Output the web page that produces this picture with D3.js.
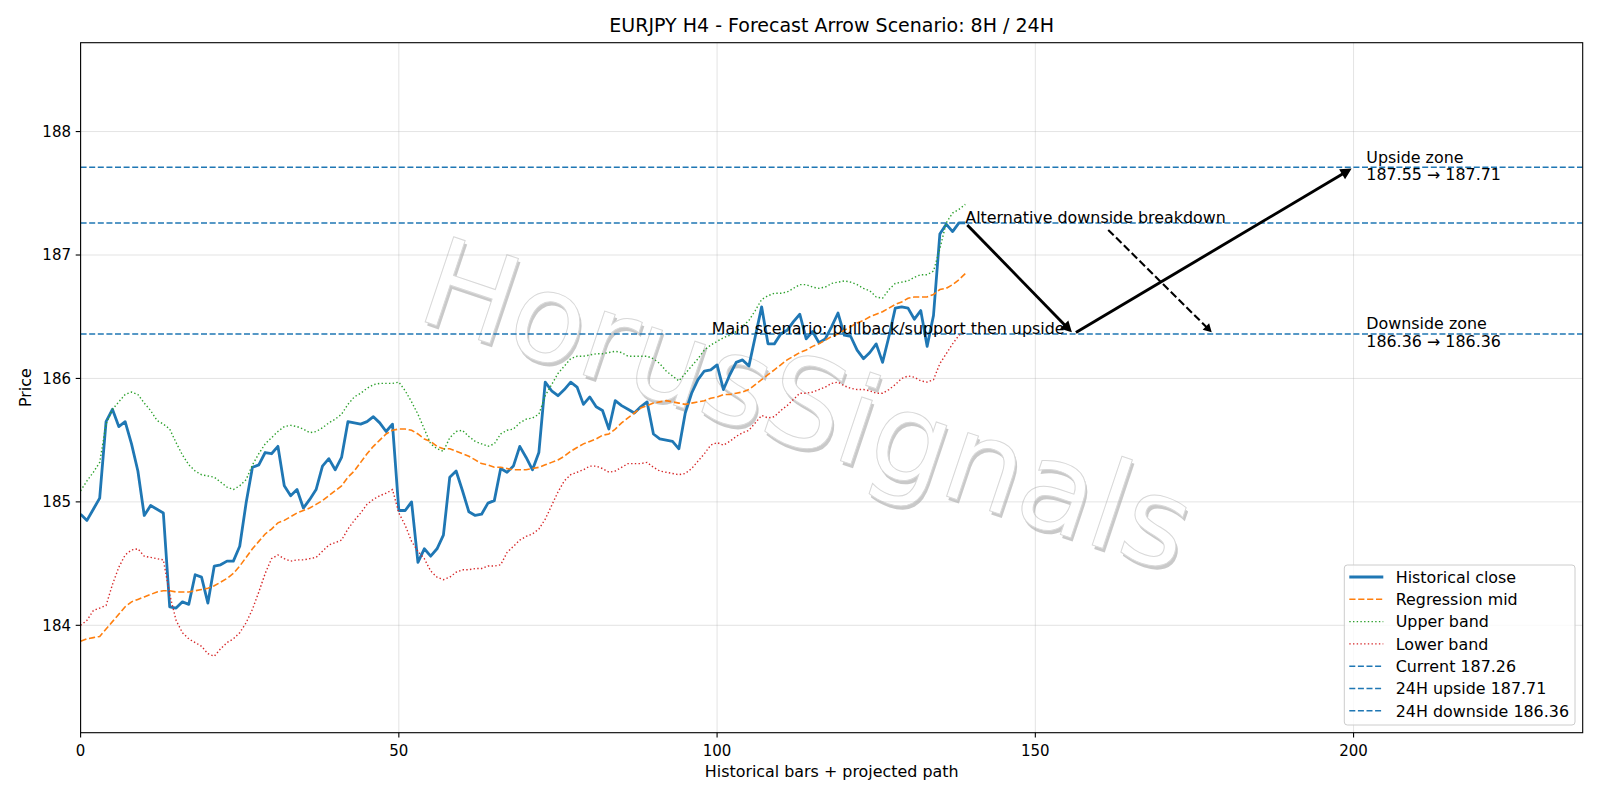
<!DOCTYPE html>
<html><head><meta charset="utf-8">
<script src="https://cdn.jsdelivr.net/npm/d3@7"></script>
<style>body{margin:0;background:#fff} text{font-family:"DejaVu Sans",sans-serif}</style>
</head><body><svg id="c" width="1600" height="800"></svg>
<script>
const closeSeries=[184.90,184.85,184.94,185.03,185.65,185.75,185.61,185.65,185.47,185.25,184.89,184.97,184.94,184.91,184.15,184.14,184.19,184.17,184.41,184.39,184.18,184.48,184.49,184.52,184.52,184.64,184.99,185.28,185.30,185.40,185.39,185.45,185.13,185.05,185.10,184.95,185.02,185.10,185.29,185.35,185.26,185.36,185.65,185.64,185.63,185.65,185.69,185.64,185.57,185.63,184.93,184.93,185.00,184.51,184.62,184.56,184.62,184.73,185.20,185.25,185.09,184.92,184.89,184.90,184.99,185.01,185.27,185.24,185.29,185.45,185.36,185.26,185.40,185.97,185.90,185.86,185.91,185.97,185.93,185.79,185.85,185.77,185.74,185.59,185.82,185.78,185.75,185.72,185.77,185.81,185.55,185.51,185.50,185.49,185.43,185.72,185.88,185.99,186.06,186.07,186.11,185.91,186.03,186.13,186.15,186.10,186.34,186.58,186.28,186.28,186.36,186.39,186.46,186.52,186.32,186.38,186.29,186.32,186.42,186.53,186.35,186.34,186.23,186.16,186.21,186.28,186.13,186.34,186.57,186.58,186.57,186.48,186.55,186.26,186.51,187.17,187.25,187.19,187.26,187.26];
const midSeries=[183.87,183.89,183.90,183.91,183.97,184.03,184.09,184.15,184.19,184.21,184.23,184.25,184.27,184.28,184.28,184.27,184.27,184.27,184.28,184.29,184.30,184.32,184.35,184.38,184.42,184.48,184.55,184.62,184.68,184.74,184.78,184.83,184.85,184.88,184.91,184.93,184.95,184.98,185.01,185.05,185.09,185.13,185.20,185.25,185.32,185.39,185.45,185.50,185.55,185.58,185.59,185.59,185.58,185.55,185.51,185.49,185.45,185.43,185.43,185.41,185.39,185.37,185.34,185.31,185.30,185.28,185.28,185.27,185.26,185.26,185.26,185.27,185.28,185.30,185.32,185.34,185.37,185.41,185.44,185.47,185.49,185.51,185.54,185.55,185.59,185.64,185.68,185.72,185.76,185.78,185.80,185.81,185.82,185.81,185.80,185.79,185.80,185.81,185.82,185.84,185.85,185.87,185.87,185.88,185.89,185.91,185.95,185.99,186.03,186.07,186.11,186.15,186.18,186.21,186.23,186.26,186.28,186.31,186.34,186.36,186.39,186.42,186.45,186.47,186.50,186.52,186.54,186.57,186.60,186.62,186.65,186.66,186.66,186.66,186.68,186.72,186.73,186.76,186.80,186.85];
const upperSeries=[185.09,185.17,185.24,185.32,185.63,185.75,185.81,185.87,185.89,185.87,185.80,185.74,185.66,185.63,185.59,185.48,185.38,185.30,185.25,185.22,185.21,185.20,185.16,185.12,185.10,185.13,185.18,185.30,185.39,185.47,185.52,185.57,185.61,185.62,185.61,185.59,185.56,185.57,185.60,185.64,185.67,185.71,185.79,185.85,185.88,185.92,185.95,185.96,185.96,185.96,185.97,185.90,185.81,185.71,185.59,185.47,185.43,185.41,185.52,185.57,185.58,185.53,185.49,185.47,185.45,185.47,185.55,185.58,185.59,185.64,185.67,185.68,185.71,185.86,185.95,186.04,186.10,186.16,186.18,186.18,186.19,186.20,186.20,186.21,186.22,186.21,186.18,186.18,186.18,186.18,186.16,186.12,186.06,186.02,185.98,186.04,186.10,186.16,186.23,186.27,186.30,186.33,186.35,186.38,186.42,186.47,186.55,186.64,186.67,186.69,186.69,186.70,186.73,186.76,186.76,186.74,186.73,186.74,186.77,186.78,186.79,186.78,186.76,186.73,186.71,186.66,186.65,186.72,186.77,186.78,186.79,186.82,186.84,186.84,186.87,187.05,187.26,187.34,187.37,187.41];
const lowerSeries=[184.00,184.04,184.12,184.14,184.16,184.33,184.47,184.57,184.61,184.62,184.56,184.55,184.54,184.53,184.25,184.04,183.94,183.89,183.86,183.83,183.77,183.75,183.81,183.86,183.89,183.94,184.02,184.13,184.27,184.42,184.54,184.57,184.54,184.52,184.53,184.53,184.54,184.55,184.60,184.65,184.67,184.69,184.78,184.85,184.91,184.98,185.02,185.05,185.07,185.10,184.91,184.81,184.68,184.60,184.54,184.44,184.39,184.37,184.39,184.43,184.45,184.45,184.46,184.46,184.48,184.48,184.49,184.59,184.64,184.69,184.72,184.74,184.78,184.86,184.97,185.08,185.17,185.22,185.24,185.26,185.29,185.29,185.27,185.24,185.25,185.28,185.31,185.31,185.31,185.32,185.28,185.25,185.24,185.23,185.22,185.23,185.27,185.33,185.39,185.46,185.48,185.46,185.49,185.53,185.56,185.58,185.64,185.70,185.68,185.69,185.74,185.78,185.83,185.88,185.88,185.89,185.91,185.93,185.96,185.97,185.94,185.92,185.91,185.91,185.90,185.88,185.88,185.91,185.95,186.00,186.02,186.01,185.98,185.97,185.99,186.12,186.20,186.28,186.35,186.38];
const xTicks=[0,50,100,150,200];
const yTicks=[184,185,186,187,188];
const levelLabels=["Current 187.26","24H upside 187.71","24H downside 186.36"];
const levelValues=[187.26,187.71,186.36];
const scenarioX=[139,156,200];
const scenarioY=[187.26,186.36,187.71];
const altTarget=[178,186.36];
const zoneLabels=[["Upside zone","187.55 \u2192 187.71"],["Downside zone","186.36 \u2192 186.36"]];
const zoneValues=[187.71,186.36];
const titleText="EURJPY H4 - Forecast Arrow Scenario: 8H / 24H";

const m={l:80.6,t:42.7,r:1582.7,b:732.7};
const svg=d3.select("#c");
const x=d3.scaleLinear().domain([0,236]).range([m.l,m.r]);
const y=d3.scaleLinear().domain([183.13,188.72]).range([m.b,m.t]);
const FS=15.9, TFS=15;
const C0="#1f77b4";

// watermark
const wm=svg.append("g").attr("transform",`translate(${m.l+0.484*(m.r-m.l)},${m.t+0.525*(m.b-m.t)}) rotate(18.5)`);
wm.append("text").attr("x",3).attr("y",3).attr("text-anchor","middle").attr("dominant-baseline","central")
  .attr("font-size",123).attr("fill","#b8b8b8").attr("opacity",0.75).text("HorusSignals");
wm.append("text").attr("text-anchor","middle").attr("dominant-baseline","central")
  .attr("font-size",123).attr("fill","#ffffff").attr("stroke","#d8d8d8").attr("stroke-width",1).text("HorusSignals");

// grid
const grid=svg.append("g").attr("stroke","#b0b0b0").attr("stroke-opacity",0.35).attr("stroke-width",1);
xTicks.forEach(v=>grid.append("line").attr("x1",x(v)).attr("x2",x(v)).attr("y1",m.t).attr("y2",m.b));
yTicks.forEach(v=>grid.append("line").attr("y1",y(v)).attr("y2",y(v)).attr("x1",m.l).attr("x2",m.r));

svg.append("clipPath").attr("id","pc").append("rect").attr("x",m.l).attr("y",m.t).attr("width",m.r-m.l).attr("height",m.b-m.t);
const plot=svg.append("g").attr("clip-path","url(#pc)");
const line=d3.line().x((d,i)=>x(i)).y(d=>y(d));

levelValues.forEach(v=>plot.append("line").attr("x1",m.l).attr("x2",m.r).attr("y1",y(v)).attr("y2",y(v))
  .attr("stroke",C0).attr("stroke-width",1.5).attr("stroke-dasharray","6,2.6"));

plot.append("path").datum(closeSeries).attr("d",line).attr("fill","none").attr("stroke",C0).attr("stroke-width",2.8).attr("stroke-linejoin","round");
plot.append("path").datum(midSeries).attr("d",line).attr("fill","none").attr("stroke","#ff7f0e").attr("stroke-width",1.6).attr("stroke-dasharray","6.2,2.7");
plot.append("path").datum(upperSeries).attr("d",line).attr("fill","none").attr("stroke","#2ca02c").attr("stroke-width",1.4).attr("stroke-dasharray","1.4,2.3");
plot.append("path").datum(lowerSeries).attr("d",line).attr("fill","none").attr("stroke","#d62728").attr("stroke-width",1.4).attr("stroke-dasharray","1.4,2.3");

function arrow(p0,p1,opts){
  const sh=2.8;
  const dx=p1[0]-p0[0],dy=p1[1]-p0[1],L=Math.hypot(dx,dy),ux=dx/L,uy=dy/L;
  const s=[p0[0]+ux*sh,p0[1]+uy*sh], tip=[p1[0]-ux*sh,p1[1]-uy*sh];
  const hl=opts.hl, hw=opts.hw, lw=opts.lw;
  const base=[tip[0]-ux*(hl+lw*0.9),tip[1]-uy*(hl+lw*0.9)];
  const t2=[tip[0]-ux*lw*0.9,tip[1]-uy*lw*0.9];
  const g=svg.append("g");
  g.append("line").attr("x1",s[0]).attr("y1",s[1]).attr("x2",base[0]).attr("y2",base[1])
    .attr("stroke","#000").attr("stroke-width",lw).attr("stroke-dasharray",opts.dash||null);
  const px=-uy,py=ux;
  g.append("path").attr("d",`M${t2[0]},${t2[1]}L${base[0]+px*hw},${base[1]+py*hw}L${base[0]-px*hw},${base[1]-py*hw}Z`)
    .attr("fill","#000").attr("stroke","#000").attr("stroke-width",lw).attr("stroke-linejoin","miter");
}
for(let i=0;i<scenarioX.length-1;i++){
  arrow([x(scenarioX[i]),y(scenarioY[i])],[x(scenarioX[i+1]),y(scenarioY[i+1])],{hl:6.5,hw:3.4,lw:2.9});
}

const altText=svg.append("text").attr("x",x(scenarioX[0])).attr("y",y(scenarioY[0])).attr("font-size",FS).attr("fill","#000").text("Alternative downside breakdown");
const bb=altText.node().getBBox();
{
  const cx=bb.x+bb.width/2, cy=bb.y+bb.height/2, pad=1;
  const tx=x(altTarget[0]), ty=y(altTarget[1]);
  const dx=tx-cx, dy=ty-cy;
  const tY=(bb.y+bb.height+pad-cy)/dy, tX=(bb.x+bb.width+pad-cx)/dx;
  const t=Math.min(tY,tX);
  arrow([cx+dx*t,cy+dy*t],[tx,ty],{hl:5,hw:2.8,lw:2.1,dash:"7.7,3.3"});
}
svg.append("text").attr("x",x(154.6)).attr("y",y(levelValues[2])).attr("text-anchor","end").attr("font-size",FS).attr("fill","#000").text("Main scenario: pullback/support then upside");

zoneLabels.forEach((lines,k)=>{
  const t=svg.append("text").attr("x",x(202)).attr("y",y(zoneValues[k])).attr("font-size",FS).attr("fill","#000");
  t.append("tspan").attr("x",x(202)).attr("dy",-4.6).text(lines[0]);
  t.append("tspan").attr("x",x(202)).attr("dy",17.6).text(lines[1]);
});

svg.append("rect").attr("x",m.l).attr("y",m.t).attr("width",m.r-m.l).attr("height",m.b-m.t).attr("fill","none").attr("stroke","#000").attr("stroke-width",1.1);
const ax=svg.append("g");
xTicks.forEach(v=>{
  ax.append("line").attr("x1",x(v)).attr("x2",x(v)).attr("y1",m.b).attr("y2",m.b+4.9).attr("stroke","#000").attr("stroke-width",1.1);
  ax.append("text").attr("x",x(v)).attr("y",m.b+22.8).attr("text-anchor","middle").attr("font-size",TFS).text(v);
});
yTicks.forEach(v=>{
  ax.append("line").attr("x1",m.l-4.9).attr("x2",m.l).attr("y1",y(v)).attr("y2",y(v)).attr("stroke","#000").attr("stroke-width",1.1);
  ax.append("text").attr("x",m.l-9.6).attr("y",y(v)+5.4).attr("text-anchor","end").attr("font-size",TFS).text(v);
});
svg.append("text").attr("x",(m.l+m.r)/2).attr("y",32).attr("text-anchor","middle").attr("font-size",19).text(titleText);
svg.append("text").attr("x",(m.l+m.r)/2).attr("y",776.5).attr("text-anchor","middle").attr("font-size",FS).text("Historical bars + projected path");
svg.append("text").attr("transform",`translate(31,${(m.t+m.b)/2}) rotate(-90)`).attr("text-anchor","middle").attr("font-size",FS).text("Price");

const legItems=[
  {label:"Historical close",color:C0,w:2.8,dash:null},
  {label:"Regression mid",color:"#ff7f0e",w:1.6,dash:"6.2,2.7"},
  {label:"Upper band",color:"#2ca02c",w:1.4,dash:"1.4,2.3"},
  {label:"Lower band",color:"#d62728",w:1.4,dash:"1.4,2.3"},
].concat(levelLabels.map(l=>({label:l,color:C0,w:1.5,dash:"6,2.6"})));
const lg=svg.append("g");
lg.append("rect").attr("x",1344.3).attr("y",565).attr("width",230.7).attr("height",160).attr("rx",3)
  .attr("fill","#fff").attr("fill-opacity",0.8).attr("stroke","#cccccc").attr("stroke-width",1);
legItems.forEach((d,i)=>{
  const yy=577+i*22.3;
  lg.append("line").attr("x1",1349.3).attr("x2",1383.3).attr("y1",yy).attr("y2",yy).attr("stroke",d.color).attr("stroke-width",d.w).attr("stroke-dasharray",d.dash);
  lg.append("text").attr("x",1395.7).attr("y",yy+5.7).attr("font-size",FS).text(d.label);
});
</script></body></html>
